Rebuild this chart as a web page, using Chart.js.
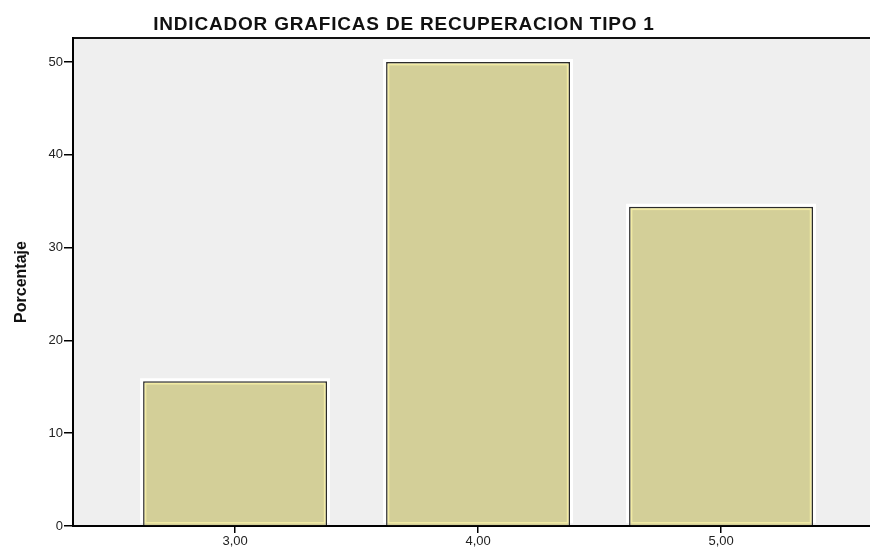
<!DOCTYPE html>
<html>
<head>
<meta charset="utf-8">
<script src="https://cdn.jsdelivr.net/npm/chart.js@4/dist/chart.umd.min.js"></script>
<style>
  html, body { margin: 0; padding: 0; background: #fff; overflow: hidden; }
  #wrap { position: relative; width: 870px; height: 548px; }
  #title {
    position: absolute; left: 0; top: 13px; width: 808px;
    text-align: center; font: bold 19px "Liberation Sans", Arial, sans-serif;
    letter-spacing: 0.8px; color: #111;
  }
</style>
</head>
<body>
<div id="wrap">
  <div id="title">INDICADOR GRAFICAS DE RECUPERACION TIPO 1</div>
  <canvas id="chart" width="870" height="548"></canvas>
</div>
<script>
// data
var categories = [3, 4, 5];
var xTickLabels = ['3,00', '4,00', '5,00'];
var porcentaje = [15.6, 50.0, 34.4];
var yTicks = [0, 10, 20, 30, 40, 50];

document.addEventListener('DOMContentLoaded', function () {
    var points = categories.map(function (c, i) { return { x: c, y: porcentaje[i] }; });

    // grey plot background
    var plotBg = {
        id: 'plotBg',
        beforeDraw: function (chart) {
            var a = chart.chartArea, ctx = chart.ctx;
            ctx.save();
            ctx.fillStyle = '#efefef';
            ctx.fillRect(a.left, a.top, a.right - a.left, a.bottom - a.top);
            ctx.restore();
        }
    };

    // white halo (top + sides) and a light inner edge on each bar
    var barEdges = {
        id: 'barEdges',
        beforeDatasetsDraw: function (chart) {
            var ctx = chart.ctx;
            chart.getDatasetMeta(0).data.forEach(function (bar) {
                var w = bar.width, l = bar.x - w / 2, r = bar.x + w / 2, t = bar.y, b = bar.base - 2;
                ctx.save();
                ctx.strokeStyle = '#ffffff';
                ctx.lineWidth = 4;
                ctx.beginPath();
                ctx.moveTo(l - 1, b);
                ctx.lineTo(l - 1, t - 1);
                ctx.lineTo(r + 1, t - 1);
                ctx.lineTo(r + 1, b);
                ctx.stroke();
                ctx.restore();
            });
        },
        afterDatasetsDraw: function (chart) {
            var ctx = chart.ctx;
            chart.getDatasetMeta(0).data.forEach(function (bar) {
                var w = bar.width, l = bar.x - w / 2, t = bar.y;
                ctx.save();
                ctx.strokeStyle = '#f2eba4';
                ctx.lineWidth = 1.5;
                ctx.strokeRect(l + 2.5, t + 2.5, w - 5, bar.base - t - 5);
                ctx.restore();
            });
        }
    };

    var ctx = document.getElementById('chart').getContext('2d');
    new Chart(ctx, {
        type: 'bar',
        data: {
            datasets: [{
                label: 'Porcentaje',
                data: points,
                backgroundColor: '#d3cf98',
                borderColor: '#2b2b2b',
                borderWidth: 1.5,
                borderSkipped: 'bottom',
                categoryPercentage: 1,
                barPercentage: 0.757
            }]
        },
        options: {
            responsive: false,
            animation: false,
            events: [],
            layout: { padding: { top: 38, left: 0, right: 0, bottom: 0 } },
            plugins: {
                legend: { display: false },
                tooltip: { enabled: false }
            },
            scales: {
                x: {
                    type: 'linear',
                    offset: false,
                    min: 2.333,
                    max: 5.613,
                    afterBuildTicks: function (scale) {
                        scale.ticks = categories.map(function (v) { return { value: v }; });
                    },
                    afterFit: function (scale) { scale.height = 22; },
                    ticks: {
                        padding: 1,
                        color: '#222',
                        font: { family: '"Liberation Sans", Arial, sans-serif', size: 13 },
                        callback: function (v) { return xTickLabels[categories.indexOf(v)]; }
                    },
                    grid: { offset: false, drawOnChartArea: false, drawTicks: true, tickLength: 7, color: '#000', lineWidth: 1.5 },
                    border: { display: true, color: '#000', width: 2 }
                },
                xTop: {
                    type: 'linear',
                    position: 'top',
                    min: 0, max: 1,
                    afterFit: function (scale) { scale.height = 0; },
                    ticks: { display: false },
                    grid: { display: false },
                    border: { display: true, color: '#111', width: 2 }
                },
                y: {
                    min: 0,
                    max: 52.6,
                    afterBuildTicks: function (scale) {
                        scale.ticks = yTicks.map(function (v) { return { value: v }; });
                    },
                    afterFit: function (scale) { scale.width = 73; },
                    ticks: {
                        padding: 1,
                        color: '#222',
                        font: { family: '"Liberation Sans", Arial, sans-serif', size: 13 }
                    },
                    grid: { drawOnChartArea: false, drawTicks: true, tickLength: 9, color: '#000', lineWidth: 1.5 },
                    border: { display: true, color: '#000', width: 2 },
                    title: {
                        display: true,
                        text: 'Porcentaje',
                        color: '#111',
                        padding: { top: 12, bottom: 0 },
                        font: { family: '"Liberation Sans", Arial, sans-serif', size: 16, weight: 'bold' }
                    }
                }
            }
        },
        plugins: [plotBg, barEdges]
    });
});
</script>
</body>
</html>
